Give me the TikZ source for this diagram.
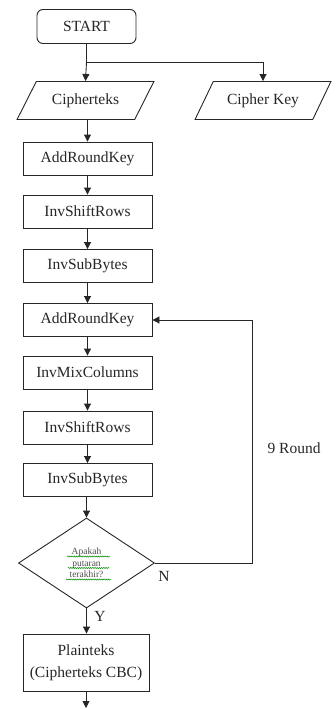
\documentclass[tikz,border=0pt]{standalone}
\usepackage{fontspec}
\setmainfont{Liberation Serif}
\usetikzlibrary{shapes.geometric,arrows.meta,decorations.pathmorphing}
\begin{document}
\begin{tikzpicture}[x=1pt,y=-1pt,
  lbl/.style={font=\fontsize{15.5}{17}\selectfont, text=black!85},
  flow/.style={draw=black!85, line width=0.9pt, fill=white},
  term/.style={flow, lbl, rectangle, rounded corners=6pt, minimum width=99pt, minimum height=34pt, inner sep=0pt},
  proc/.style={flow, lbl, rectangle, minimum width=129pt, minimum height=33pt, inner sep=0pt},
  io/.style={flow, lbl, trapezium, trapezium left angle=47, trapezium right angle=133,
             trapezium stretches=true, minimum width=137pt, minimum height=38pt, inner sep=0pt},
  decide/.style={flow, diamond, minimum width=136pt, minimum height=90pt, inner sep=0pt},
  arr/.style={draw=black!85, line width=0.9pt, -{Triangle[length=7pt,width=7pt]}},
  link/.style={draw=black!85, line width=0.9pt},
  squiggle/.style={draw=green!55!black, line width=0.5pt, decorate,
                   decoration={snake, segment length=2.2pt, amplitude=0.6pt}}]
  \useasboundingbox (0,0) rectangle (335,709);

  % terminal and inputs
  \node[term] (start) at (86.5,26.5) {START};
  \node[io] (ct) at (85.5,100.5) {Cipherteks};
  \node[io] (ck) at (263,100.5) {Cipher Key};

  % first transformation steps
  \node[proc] (ark1) at (87.5,158.5) {AddRoundKey};
  \node[proc] (isr1) at (87.5,211.5) {InvShiftRows};
  \node[proc] (isb1) at (87.5,266) {InvSubBytes};

  % round body
  \node[proc] (ark2) at (87.5,320) {AddRoundKey};
  \node[proc] (imc)  at (87.5,372.5) {InvMixColumns};
  \node[proc] (isr2) at (87.5,427.5) {InvShiftRows};
  \node[proc] (isb2) at (87.5,480) {InvSubBytes};

  % decision
  \node[decide] (dec) at (86.5,563) {};
  \node[font=\fontsize{9.5}{11.5}\selectfont, text=black!70, align=center] (q) at (dec.center)
    {Apakah\\putaran\\terakhir?};
  \draw[squiggle] (67,556.5) -- (110,556.5);
  \draw[squiggle] (68,568) -- (109,568);
  \draw[squiggle] (66,579.5) -- (111,579.5);

  % output
  \node[flow, rectangle, minimum width=126pt, minimum height=57pt, inner sep=0pt,
        lbl, align=center] (plain) at (86,662.5)
    {Plainteks\\[5pt](Cipherteks CBC)};

  \coordinate (split) at (86.5,62);
  \coordinate (loopx) at (252,0);
  \coordinate (endpt) at (86,708);

  % connectors
  \draw[link] (start.south) -- (split);
  \draw[arr] (split) -- (ct.north);
  \draw[arr] (split) -| (ck.north);
  \draw[arr] (ct.south -| ark1.north) -- (ark1.north);
  \draw[arr] (ark1) -- (isr1);
  \draw[arr] (isr1) -- (isb1);
  \draw[arr] (isb1) -- (ark2);
  \draw[arr] (ark2) -- (imc);
  \draw[arr] (imc) -- (isr2);
  \draw[arr] (isr2) -- (isb2);
  \draw[arr] (isb2.south -| dec.north) -- (dec.north);
  \draw[arr] (dec.east) -- (dec.east -| loopx) |- (ark2.east);
  \draw[arr] (dec.south) -- (plain.north -| dec.south);
  \draw[arr] (plain.south -| endpt) -- (endpt);

  % labels
  \node[lbl, anchor=west] (rounds) at (264,448) {9 Round};
  \node[lbl] (nlab) at (164,576) {N};
  \node[lbl] (ylab) at (100,616) {Y};
\end{tikzpicture}
\end{document}
